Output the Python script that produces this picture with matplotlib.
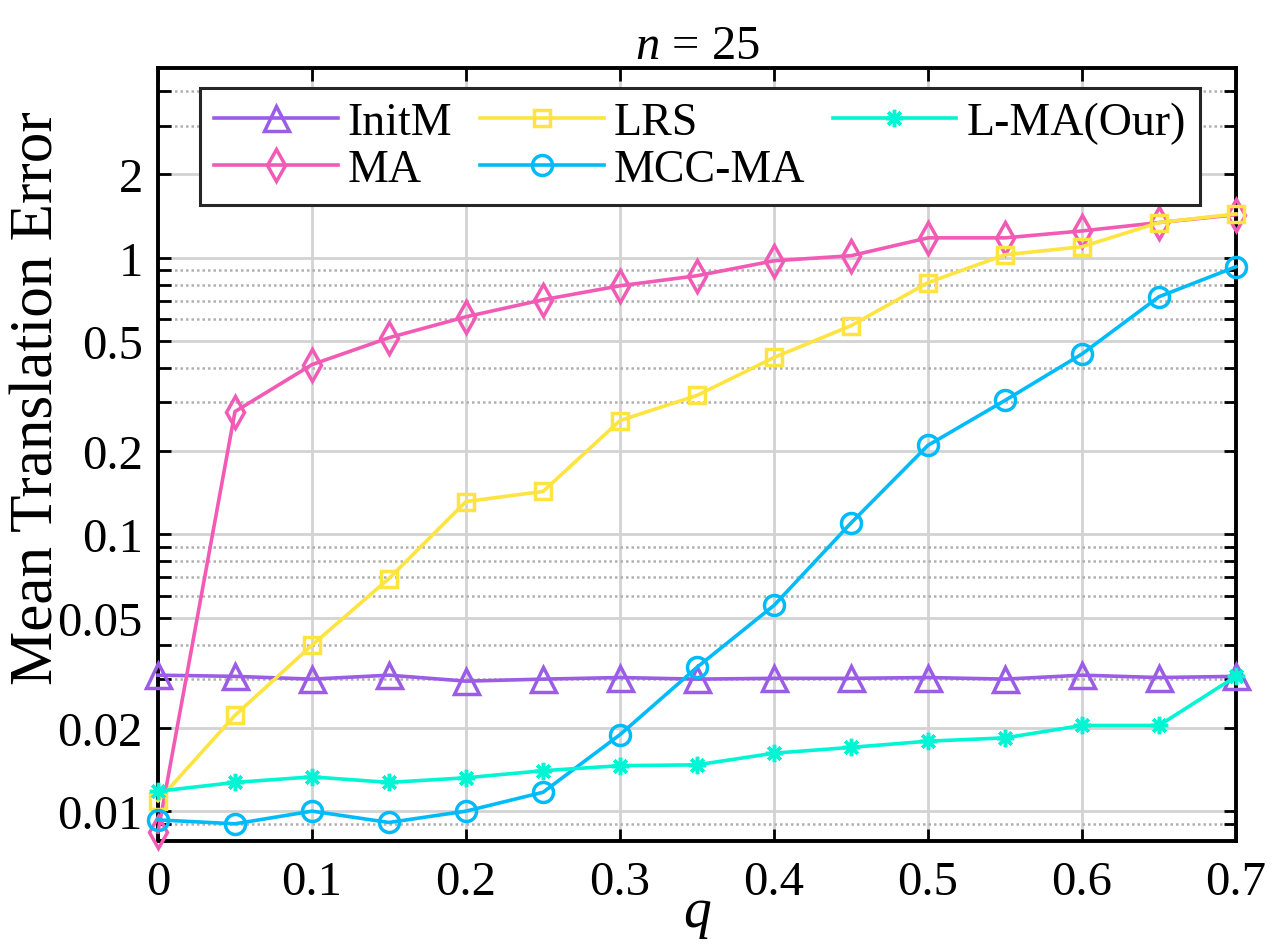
import matplotlib
matplotlib.use("Agg")
import matplotlib.pyplot as plt
from matplotlib.ticker import FixedLocator, FixedFormatter, NullFormatter

plt.rcParams["font.family"] = ["Liberation Serif", "DejaVu Serif"]
plt.rcParams["mathtext.fontset"] = "custom"
plt.rcParams["mathtext.rm"] = "Liberation Serif"
plt.rcParams["mathtext.it"] = "Liberation Serif:italic"

# values (q = outlier ratio)
q = [0.0, 0.05, 0.1, 0.15, 0.2, 0.25, 0.3, 0.35, 0.4, 0.45, 0.5, 0.55, 0.6, 0.65, 0.7]
initm = [0.0310, 0.0307, 0.0300, 0.0310, 0.0295, 0.0300, 0.0304, 0.0300,
         0.0302, 0.0302, 0.0304, 0.0300, 0.0310, 0.0304, 0.0307]
ma = [0.0084, 0.278, 0.411, 0.514, 0.612, 0.705, 0.792, 0.861,
      0.975, 1.017, 1.18, 1.18, 1.25, 1.34, 1.43]
lrs = [0.0109, 0.0222, 0.0398, 0.0693, 0.1315, 0.143, 0.258, 0.318,
       0.436, 0.568, 0.813, 1.025, 1.096, 1.34, 1.44]
mcc_ma = [0.0093, 0.0090, 0.0100, 0.0091, 0.0100, 0.0117, 0.0189, 0.0331,
          0.0554, 0.110, 0.21, 0.305, 0.449, 0.723, 0.928]
l_ma = [0.0118, 0.0127, 0.0133, 0.0127, 0.0132, 0.0140, 0.0146, 0.0147,
        0.0162, 0.0170, 0.0179, 0.0184, 0.0204, 0.0204, 0.0307]

x_ticks = [0, 0.1, 0.2, 0.3, 0.4, 0.5, 0.6, 0.7]
x_labels = ["0", "0.1", "0.2", "0.3", "0.4", "0.5", "0.6", "0.7"]
y_major = [0.01, 0.02, 0.05, 0.1, 0.2, 0.5, 1, 2]
y_labels = ["0.01", "0.02", "0.05", "0.1", "0.2", "0.5", "1", "2"]
y_minor = [0.009, 0.03, 0.04, 0.06, 0.07, 0.08, 0.09,
           0.3, 0.4, 0.6, 0.7, 0.8, 0.9, 3, 4]

series = [
    ("InitM", initm, "#9b5de5", "^", 18),
    ("MA", ma, "#f15bb5", "d", 15.8),
    ("LRS", lrs, "#fee440", "s", 12.2),
    ("MCC-MA", mcc_ma, "#00bbf9", "o", 14.4),
    ("L-MA(Our)", l_ma, "#00f5d4", (8, 2, 0), 12.5),
]

fig = plt.figure(figsize=(12.76, 9.45), dpi=100)
ax = fig.add_axes([158 / 1276, 103 / 945, 1078 / 1276, 773 / 945])

for name, vals, col, mk, ms in series:
    ax.plot(q, vals, color=col, lw=2.6, marker=mk, ms=ms, mfc="none",
            mec=col, mew=2.5, label=name, clip_on=False, zorder=3)

ax.set_yscale("log")
ax.set_xlim(0, 0.7)
ax.set_ylim(0.0078, 4.85)

ax.xaxis.set_major_locator(FixedLocator(x_ticks))
ax.xaxis.set_major_formatter(FixedFormatter(x_labels))
ax.xaxis.set_minor_locator(FixedLocator([]))
ax.yaxis.set_major_locator(FixedLocator(y_major))
ax.yaxis.set_major_formatter(FixedFormatter(y_labels))
ax.yaxis.set_minor_locator(FixedLocator(y_minor))
ax.yaxis.set_minor_formatter(NullFormatter())

ax.grid(True, which="major", color="#d3d3d3", lw=2.0, ls="-", zorder=0)
ax.grid(True, which="minor", axis="y", color="#b0b0b0", lw=1.8,
        ls=(0, (1, 1.2)), zorder=0)
ax.set_axisbelow(True)

ax.tick_params(which="both", direction="in", top=True, right=True,
               width=2.0, length=9, labelsize=35, color="black")
ax.tick_params(axis="x", pad=14)
ax.tick_params(axis="y", pad=11)
for sp in ax.spines.values():
    sp.set_linewidth(2.8)
    sp.set_color("black")

ax.set_title(r"$n$ = 25", fontsize=35, pad=4)
ax.set_xlabel(r"$q$", fontsize=40, labelpad=-12)
ax.set_ylabel("Mean Translation Error", fontsize=44)
ax.yaxis.set_label_coords(-0.086, 0.574)

leg = ax.legend(ncol=3, loc="upper left", bbox_to_anchor=(0.039, 0.974),
                borderaxespad=0, fontsize=33, handlelength=2.7,
                handletextpad=0.22, columnspacing=0.6, labelspacing=0.1,
                borderpad=0.3, fancybox=False, framealpha=1,
                edgecolor="#262626")
leg.get_frame().set_linewidth(2.2)

fig.savefig("out.png", dpi=100)
